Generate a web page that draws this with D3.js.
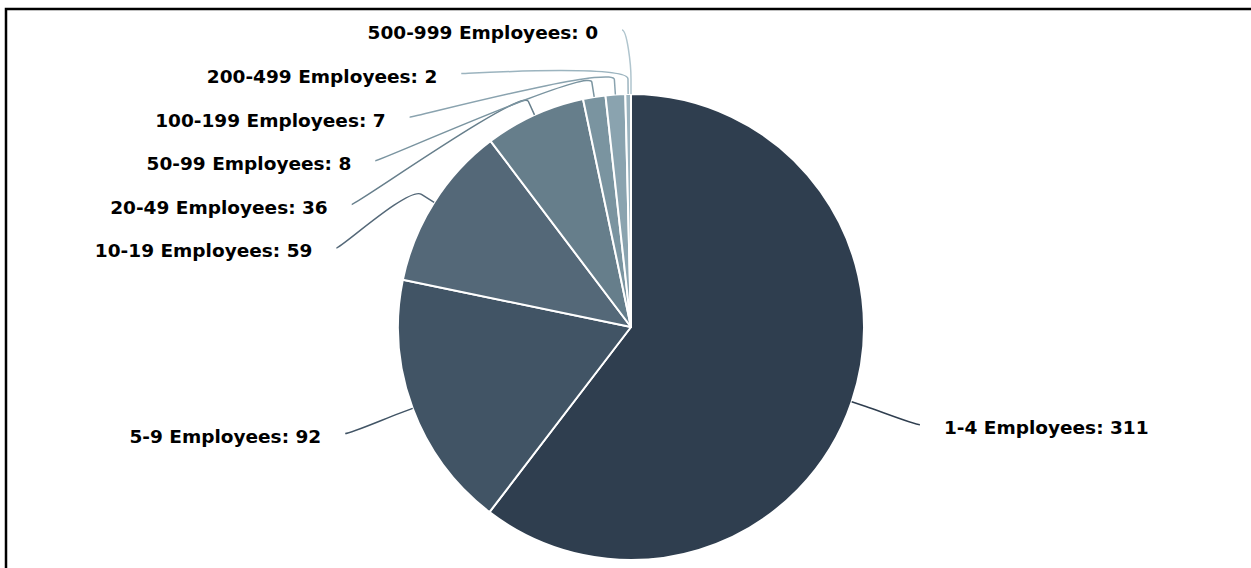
<!DOCTYPE html>
<html>
<head>
<meta charset="utf-8">
<script src="https://cdn.jsdelivr.net/npm/d3@7"></script>
<style>
  html, body { margin: 0; background: #fff; overflow: hidden; }
  svg { display: block; }
  .lbl { font-family: "DejaVu Sans", sans-serif; font-weight: bold; font-size: 18.5px; fill: #000; }
</style>
</head>
<body>
<script>
// chart data
const categories = ["1-4 Employees", "5-9 Employees", "10-19 Employees", "20-49 Employees",
                    "50-99 Employees", "100-199 Employees", "200-499 Employees", "500-999 Employees"];
const counts = [311, 92, 59, 36, 8, 7, 2, 0];
const colours = ["#2f3e4f", "#415465", "#546878", "#667e8b", "#7a94a0", "#8aa3af", "#9cb4bf", "#b0c5ce"];

const width = 1251, height = 568;
const cx = 631, cy = 327, radius = 233;
const labelRadius = 305;   // where the connectors end
const labelGap = 24;       // space between connector end and text
const rowHeight = 43.6;    // minimum vertical spacing of stacked labels
const minY = 30;

const svg = d3.select("body").append("svg")
    .attr("width", width)
    .attr("height", height);

// frame (only top and left edges fall inside the picture)
svg.append("path")
    .attr("d", "M6," + height + "V9H" + width)
    .attr("fill", "none")
    .attr("stroke", "#000")
    .attr("stroke-width", 2.5);

const data = categories.map((c, i) => ({ name: c, value: counts[i], colour: colours[i] }));

const pie = d3.pie().sort(null).value(d => d.value).startAngle(0).endAngle(2 * Math.PI);
const arcs = pie(data);
const arc = d3.arc().innerRadius(0).outerRadius(radius);

const g = svg.append("g").attr("transform", "translate(" + cx + "," + cy + ")");

g.selectAll("path.slice")
    .data(arcs)
    .enter().append("path")
    .attr("class", "slice")
    .attr("d", arc)
    .attr("fill", d => d.data.colour)
    .attr("stroke", "#fff")
    .attr("stroke-width", 2)
    .attr("stroke-linejoin", "round");

// label layout: natural positions, then push apart on each side
function polar(a, r) { return [r * Math.sin(a), -r * Math.cos(a)]; }

const labels = arcs.map(d => {
    const mid = (d.startAngle + d.endAngle) / 2;
    const nat = polar(mid, labelRadius);
    return {
        d: d, mid: mid,
        left: Math.sin(mid) < 0 || mid >= 2 * Math.PI - 1e-6,
        natX: nat[0], natY: nat[1], y: nat[1]
    };
});

["left", "right"].forEach(side => {
    const list = labels.filter(l => (side === "left") === l.left).sort((a, b) => a.natY - b.natY);
    let prev = -Infinity;
    list.forEach(l => {
        l.y = Math.max(l.natY, prev + rowHeight, minY - cy);
        prev = l.y;
        const pushed = l.y - l.natY;
        if (pushed > 10) {
            const dx = Math.sqrt(Math.max(0, labelRadius * labelRadius - l.y * l.y));
            l.x = l.left ? -dx : dx;
        } else if (pushed > 0) {
            // clamped at the top edge: nudge slightly outward
            l.x = l.natX + (l.left ? -9 : 9);
        } else {
            l.x = l.natX;
        }
    });
});

// connectors (soft curve to a break point just outside the slice)
g.selectAll("path.conn")
    .data(labels)
    .enter().append("path")
    .attr("class", "conn")
    .attr("fill", "none")
    .attr("stroke", l => l.d.data.colour)
    .attr("stroke-width", 1.5)
    .attr("d", l => {
        const touch = polar(l.mid, radius);
        const brk = polar(l.mid, radius + 15);
        const p = d3.path();
        p.moveTo(l.x, l.y);
        p.bezierCurveTo(l.x + (l.left ? 5 : -5), l.y,
                        2 * brk[0] - touch[0], 2 * brk[1] - touch[1],
                        brk[0], brk[1]);
        p.lineTo(touch[0], touch[1]);
        return p.toString();
    });

g.selectAll("text.lbl")
    .data(labels)
    .enter().append("text")
    .attr("class", "lbl")
    .attr("x", l => l.left ? l.x - labelGap : l.x + labelGap)
    .attr("y", l => l.y + 3)
    .attr("dy", "0.35em")
    .attr("text-anchor", l => l.left ? "end" : "start")
    .text(l => l.d.data.name + ": " + l.d.data.value);
</script>
</body>
</html>
